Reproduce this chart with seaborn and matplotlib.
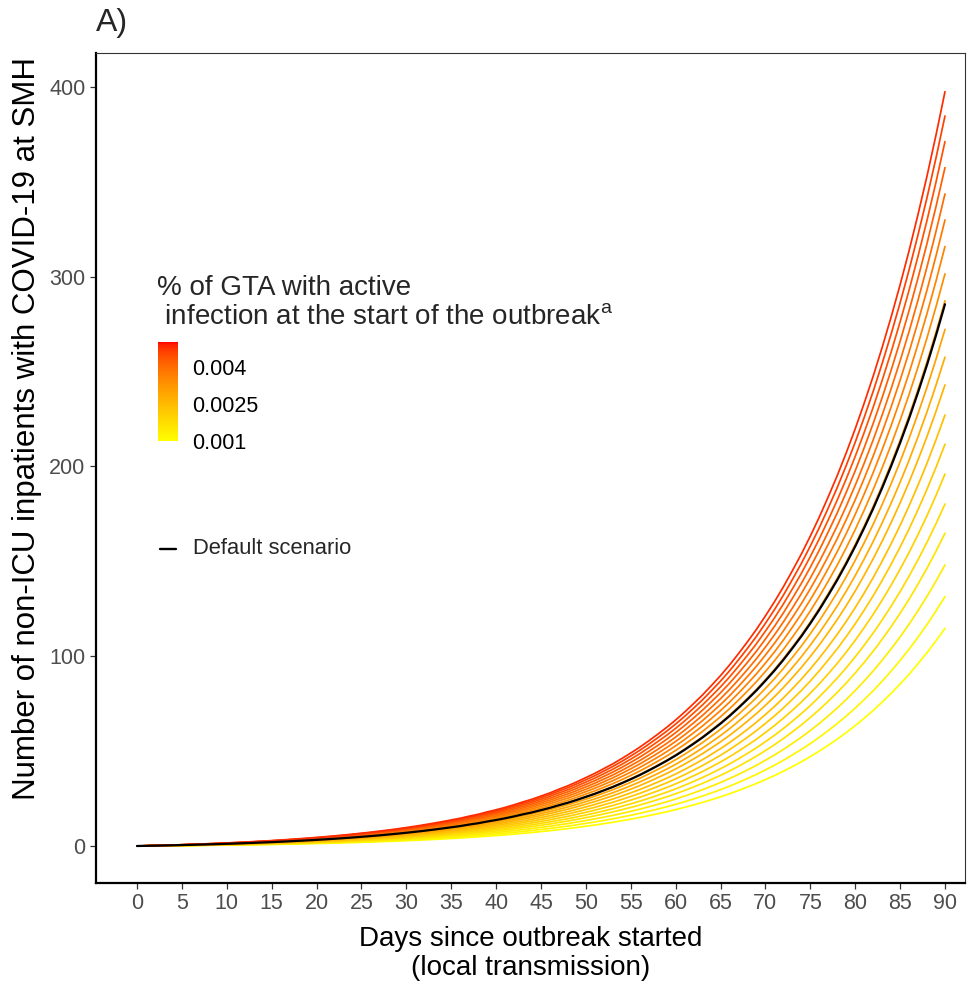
import numpy as np
import pandas as pd
import matplotlib
matplotlib.use("Agg")
import matplotlib.pyplot as plt
from matplotlib.colors import LinearSegmentedColormap, Normalize
from matplotlib.colorbar import ColorbarBase
import seaborn as sns

# ---- data -------------------------------------------------------------
days = list(range(0, 91))

# default scenario: non-ICU COVID-19 inpatients at SMH, by day
default_census = [
    0.0, 0.09, 0.18, 0.28, 0.38, 0.49, 0.61, 0.74, 0.87, 1.01,
    1.16, 1.31, 1.48, 1.66, 1.85, 2.04, 2.26, 2.48, 2.72, 2.97,
    3.24, 3.52, 3.82, 4.14, 4.48, 4.84, 5.22, 5.62, 6.05, 6.50,
    6.98, 7.49, 8.03, 8.61, 9.22, 9.86, 10.5, 11.3, 12.0, 12.9,
    13.7, 14.6, 15.6, 16.7, 17.7, 18.9, 20.1, 21.5, 22.8, 24.3,
    25.9, 27.5, 29.3, 31.1, 33.1, 35.2, 37.4, 39.8, 42.3, 44.9,
    47.7, 50.7, 53.9, 57.2, 60.8, 64.5, 68.5, 72.8, 77.3, 82.0,
    87.1, 92.4, 98.1, 104.2, 110.5, 117.3, 124.5, 132.2, 140.2, 148.8,
    157.9, 167.6, 177.8, 188.7, 200.2, 212.4, 225.3, 239.1, 253.6, 269.1,
    285.5,
]

# % of GTA with active infection at the start of the outbreak
pct_active = [0.0010, 0.0012, 0.0014, 0.0016, 0.0018, 0.0020, 0.0022,
              0.0024, 0.0026, 0.0028, 0.0030, 0.0032, 0.0034, 0.0036,
              0.0038, 0.0040, 0.0042, 0.0044, 0.0046, 0.0048]

# inpatients on day 90 for each starting prevalence
day90_census = [114.7, 131.4, 148.1, 164.8, 180.2, 196.0, 211.7, 227.1,
                243.0, 257.6, 272.2, 287.3, 301.5, 315.9, 329.9, 343.6,
                357.5, 371.2, 384.7, 397.5]

legend_ticks = [0.001, 0.0025, 0.004]
legend_ticklabels = ["0.001", "0.0025", "0.004"]

# long table: each scenario follows the default trajectory, scaled to its day-90 census
profile = np.array(default_census) / default_census[-1]
rows = []
for p, end in zip(pct_active, day90_census):
    for d, v in zip(days, profile * end):
        rows.append({"day": d, "inpatients": v, "pct": p})
scen = pd.DataFrame(rows)

# ---- colour scale: yellow -> red, interpolated in CIELAB -----------------
def _srgb_to_lab(rgb):
    rgb = np.asarray(rgb, float)
    lin = np.where(rgb <= 0.04045, rgb / 12.92, ((rgb + 0.055) / 1.055) ** 2.4)
    M = np.array([[0.4124564, 0.3575761, 0.1804375],
                  [0.2126729, 0.7151522, 0.0721750],
                  [0.0193339, 0.1191920, 0.9503041]])
    xyz = M @ lin / np.array([0.95047, 1.0, 1.08883])
    f = np.where(xyz > 0.008856, np.cbrt(xyz), 7.787 * xyz + 16 / 116)
    return np.array([116 * f[1] - 16, 500 * (f[0] - f[1]), 200 * (f[1] - f[2])])

def _lab_to_srgb(lab):
    L, a, b = lab
    fy = (L + 16) / 116
    f = np.array([fy + a / 500, fy, fy - b / 200])
    xyz = np.where(f ** 3 > 0.008856, f ** 3, (f - 16 / 116) / 7.787)
    xyz = xyz * np.array([0.95047, 1.0, 1.08883])
    Minv = np.array([[3.2404542, -1.5371385, -0.4985314],
                     [-0.9692660, 1.8760108, 0.0415560],
                     [0.0556434, -0.2040259, 1.0572252]])
    lin = np.clip(Minv @ xyz, 0, 1)
    rgb = np.where(lin <= 0.0031308, 12.92 * lin, 1.055 * lin ** (1 / 2.4) - 0.055)
    return np.clip(rgb, 0, 1)

lab_lo = _srgb_to_lab([1, 1, 0])
lab_hi = _srgb_to_lab([1, 0, 0])
ramp = [_lab_to_srgb(lab_lo + (lab_hi - lab_lo) * t) for t in np.linspace(0, 1, 64)]
cmap = LinearSegmentedColormap.from_list("yellow_red", ramp)
norm = Normalize(vmin=0.001, vmax=0.005)

# ---- figure -------------------------------------------------------------
sns.set_style("white")
plt.rcParams["font.family"] = ["Liberation Sans", "DejaVu Sans"]
plt.rcParams["mathtext.fontset"] = "custom"
plt.rcParams["mathtext.rm"] = "Liberation Sans"

W, H = 980, 983
fig = plt.figure(figsize=(W / 100, H / 100), dpi=100)
ax = fig.add_axes([96 / W, 1 - 883 / H, (965 - 96) / W, (883 - 53) / H])

sns.lineplot(data=scen, x="day", y="inpatients", hue="pct", palette=cmap,
             hue_norm=(0.001, 0.005), legend=False, linewidth=1.25, ax=ax)
sns.lineplot(x=days, y=default_census, color="black", linewidth=1.6, ax=ax)

ax.set_xlim(-4.57, 92.23)
ax.set_ylim(-19.5, 417.9)
ax.set_xticks(list(range(0, 91, 5)))
ax.set_yticks([0, 100, 200, 300, 400])

for side in ("left", "bottom"):
    ax.spines[side].set_color("black")
    ax.spines[side].set_linewidth(1.6)
for side in ("top", "right"):
    ax.spines[side].set_color("#333333")
    ax.spines[side].set_linewidth(0.8)

ax.tick_params(axis="both", which="major", direction="out", length=4.5, width=0.9,
               color="#333333", labelcolor="#4D4D4D", labelsize=15.5, pad=3)
ax.tick_params(left=True, bottom=True)

ax.set_xlabel("Days since outbreak started\n(local transmission)", fontsize=20,
              color="black", labelpad=8, linespacing=1.15)
ax.set_ylabel("Number of non-ICU inpatients with COVID-19 at SMH", fontsize=22.5,
              color="black")
ax.yaxis.set_label_coords((42 - 96) / (965 - 96), (883 - 429) / (883 - 53))

fig.text(96 / W, 1 - 23 / H, "A)", fontsize=23, ha="left", va="center")

# colour legend
fig.text(157 / W, 1 - 303 / H,
         "% of GTA with active\n infection at the start of the outbreak$^{\\mathrm{a}}$",
         fontsize=20, ha="left", va="center", linespacing=1.18)
cax = fig.add_axes([158 / W, 1 - 441 / H, 20 / W, 99 / H])
cb = ColorbarBase(cax, cmap=cmap, norm=norm, orientation="vertical")
cb.outline.set_visible(False)
cb.set_ticks(legend_ticks)
cb.set_ticklabels(legend_ticklabels)
cax.tick_params(length=0, pad=10, labelsize=15.5, labelcolor="black")
for t in legend_ticks:
    cax.plot([0.001, 0.0018], [t, t], color="white", lw=0.8)

# default scenario key
fig.add_artist(plt.Line2D([160 / W, 176 / W], [1 - 549 / H, 1 - 549 / H],
                          color="black", linewidth=1.7, transform=fig.transFigure))
fig.text(193 / W, 1 - 549 / H, "Default scenario", fontsize=15.8,
         ha="left", va="center")

fig.savefig("out.png", dpi=100, facecolor="white")
